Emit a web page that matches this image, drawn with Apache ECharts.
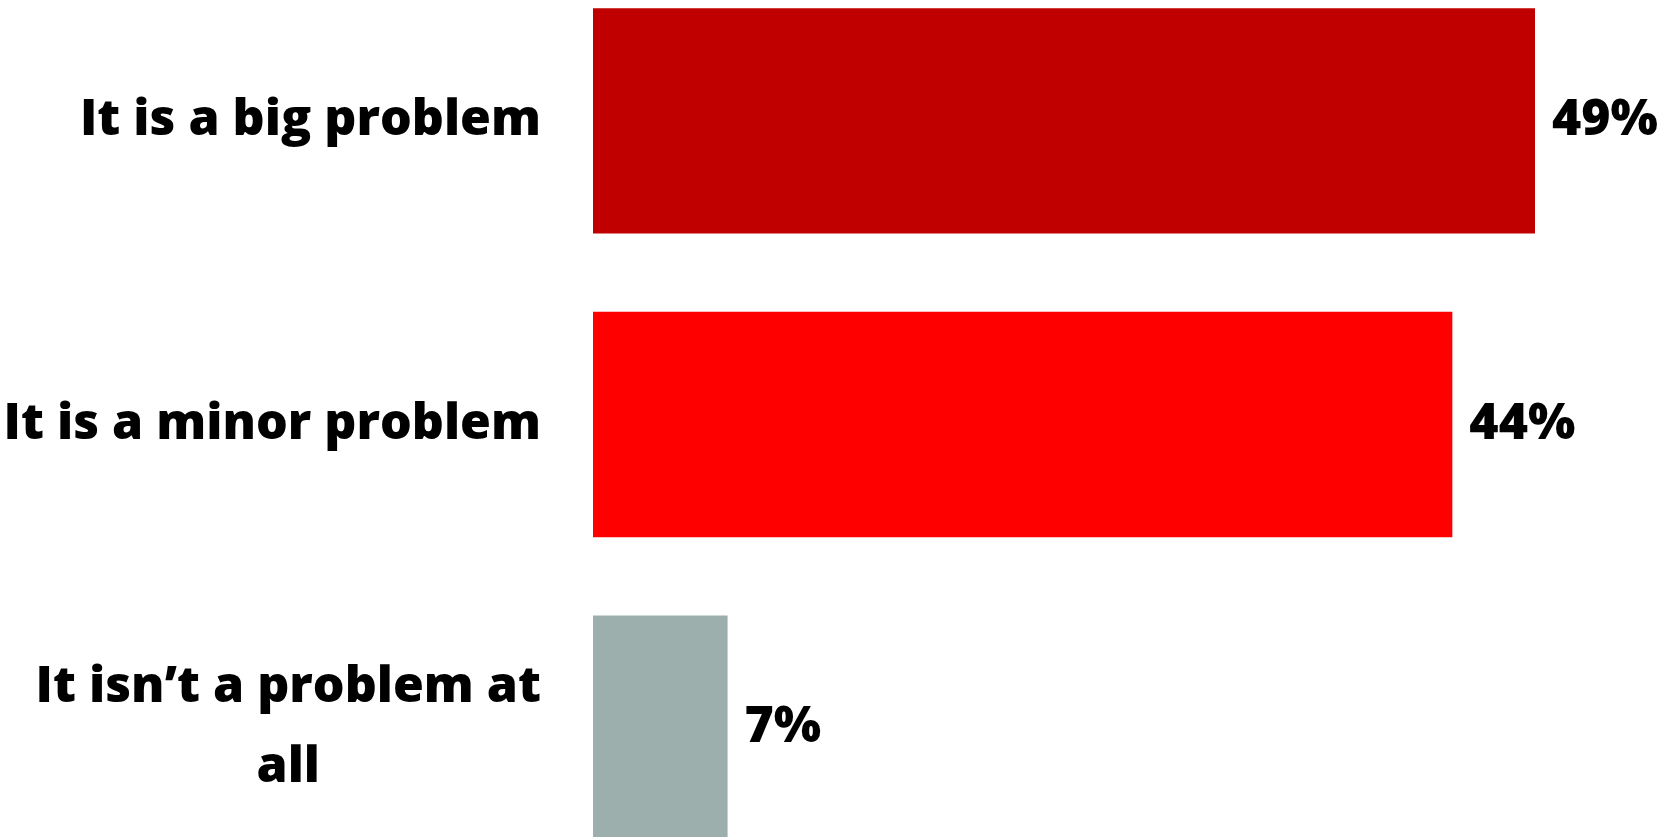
<!DOCTYPE html>
<html>
<head>
<meta charset="utf-8">
<script src="https://cdn.jsdelivr.net/npm/echarts@6/dist/echarts.min.js"></script>
<style>
html,body{margin:0;padding:0;background:#fff;}
#chart{width:1668px;height:837px;}
</style>
</head>
<body>
<div id="chart"></div>
<script>
const categories = ['It is a big problem', 'It is a minor problem', 'It isn’t a problem at all'];
const values = [49, 44.7, 7];
const valueLabels = ['49%', '44%', '7%'];
const colors = ['#C00000', '#FF0000', '#9DAFAD'];

const FONT = 'Open Sans';
const FS = 50;
const FW = 800;
const chart = echarts.init(document.getElementById('chart'));
chart.setOption({
  backgroundColor: '#ffffff',
  animation: false,
  grid: { left: 593, width: 942, top: -31, height: 911, outerBoundsMode: 'none', containLabel: false },
  xAxis: { type: 'value', min: 0, max: 49, show: false },
  yAxis: {
    type: 'category',
    data: categories,
    inverse: true,
    axisLine: { show: false },
    axisTick: { show: false },
    axisLabel: {
      margin: 52,
      align: 'right',
      fontFamily: FONT,
      fontWeight: FW,
      fontSize: FS,
      color: '#000',
      lineHeight: 80,
      formatter: function (v) {
        if (v === 'It isn’t a problem at all') {
          return '{c|It isn’t a problem at}\n{c|all}';
        }
        return '{c|' + v + '}';
      },
      rich: {
        c: { align: 'center', fontFamily: FONT, fontWeight: FW, fontSize: FS, color: '#000', lineHeight: 80 }
      }
    }
  },
  series: [{
    type: 'bar',
    barCategoryGap: '25.8%',
    data: values.map((v, i) => ({ value: v, itemStyle: { color: colors[i] } })),
    label: {
      show: true,
      position: 'right',
      distance: 17,
      fontFamily: FONT,
      fontWeight: FW,
      fontSize: FS,
      color: '#000',
      formatter: function (p) { return valueLabels[p.dataIndex]; }
    }
  }]
});
</script>
</body>
</html>
